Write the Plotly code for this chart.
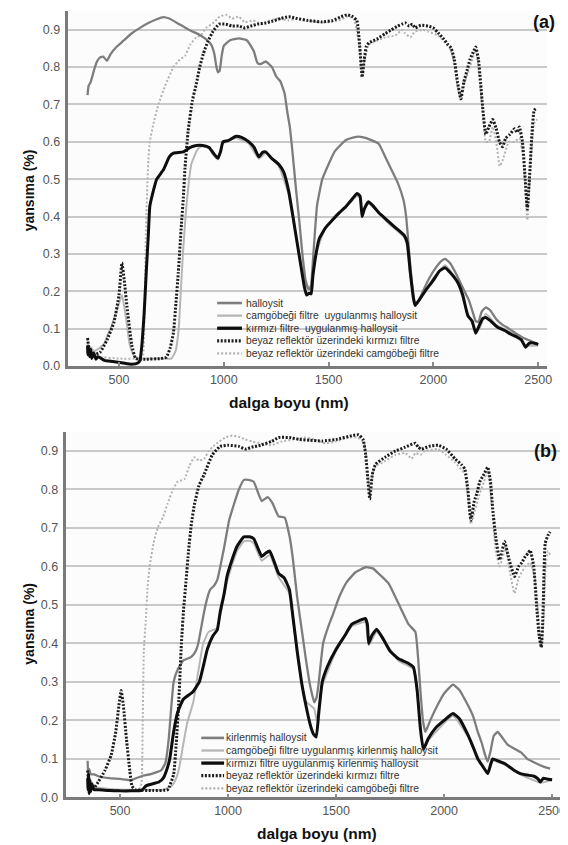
import plotly.graph_objects as go

W, H = 568, 845

# ---------------- DATA (wavelength nm, reflectance) ----------------
# Panel (a)
a_halloysit = [(350,0.725),(355,0.75),(365,0.76),(380,0.79),(395,0.815),(410,0.826),(425,0.828),(443,0.817),
    (460,0.835),(490,0.855),(520,0.87),(560,0.89),(600,0.905),(640,0.918),(680,0.928),(711,0.934),(740,0.93),
    (790,0.914),(840,0.898),(880,0.888),(916,0.874),(940,0.86),(955,0.835),(965,0.80),(972,0.786),(980,0.79),
    (990,0.83),(1000,0.857),(1030,0.872),(1072,0.877),(1110,0.872),(1143,0.843),(1160,0.812),(1175,0.808),
    (1200,0.815),(1230,0.80),(1250,0.775),(1270,0.762),(1290,0.73),(1303,0.68),(1315,0.64),(1330,0.56),
    (1345,0.47),(1360,0.39),(1375,0.30),(1390,0.23),(1405,0.205),(1415,0.21),(1425,0.28),(1435,0.36),
    (1445,0.43),(1470,0.50),(1500,0.54),(1530,0.575),(1583,0.605),(1620,0.612),(1644,0.614),(1680,0.61),
    (1739,0.595),(1770,0.56),(1800,0.525),(1830,0.49),(1857,0.445),(1870,0.40),(1885,0.30),(1900,0.21),
    (1913,0.165),(1930,0.175),(1950,0.20),(1980,0.235),(2010,0.262),(2040,0.282),(2056,0.287),(2080,0.275),
    (2110,0.245),(2140,0.21),(2170,0.175),(2190,0.14),(2202,0.12),(2215,0.118),(2230,0.145),(2250,0.157),
    (2270,0.15),(2300,0.125),(2330,0.11),(2360,0.1),(2400,0.085),(2430,0.075),(2460,0.068),(2500,0.058)]

a_camgobegi = [(350,0.07),(355,0.04),(365,0.05),(380,0.04),(400,0.045),(430,0.06),(443,0.08),(460,0.1),
    (490,0.15),(514,0.19),(525,0.16),(538,0.11),(550,0.06),(561,0.04),(575,0.025),(600,0.02),(700,0.02),
    (750,0.02),(770,0.04),(785,0.1),(795,0.2),(805,0.3),(815,0.38),(822,0.43),(845,0.54),(870,0.575),
    (884,0.585),(900,0.588),(930,0.583),(950,0.565),(972,0.553),(996,0.595),(1058,0.61),(1120,0.595),
    (1167,0.555),(1200,0.57),(1262,0.535),(1309,0.46),(1350,0.33),(1390,0.22),(1400,0.21),(1415,0.215),
    (1440,0.30),(1485,0.37),(1583,0.425),(1635,0.455),(1650,0.45),(1660,0.405),(1690,0.435),(1780,0.385),
    (1860,0.345),(1875,0.32),(1890,0.24),(1913,0.165),(1960,0.2),(2000,0.235),(2056,0.27),(2110,0.23),
    (2165,0.14),(2202,0.095),(2220,0.1),(2250,0.14),(2300,0.11),(2400,0.08),(2440,0.055),(2500,0.055)]

a_kirmizi = [(350,0.055),(352,0.03),(355,0.05),(360,0.025),(365,0.045),(370,0.02),(380,0.035),(390,0.018),
    (400,0.025),(430,0.015),(470,0.012),(520,0.008),(560,0.005),(590,0.008),(600,0.015),(610,0.06),
    (620,0.14),(630,0.25),(640,0.35),(647,0.427),(660,0.46),(680,0.50),(712,0.525),(740,0.56),(760,0.57),
    (807,0.573),(840,0.585),(869,0.59),(900,0.59),(930,0.585),(950,0.57),(972,0.556),(985,0.575),(996,0.60),
    (1020,0.603),(1058,0.615),(1085,0.612),(1120,0.60),(1145,0.585),(1167,0.56),(1185,0.572),(1200,0.573),
    (1230,0.555),(1262,0.54),(1285,0.52),(1309,0.47),(1330,0.40),(1350,0.33),(1370,0.26),(1385,0.21),
    (1395,0.19),(1408,0.195),(1417,0.193),(1425,0.24),(1440,0.30),(1455,0.34),(1485,0.37),(1517,0.39),
    (1550,0.41),(1583,0.427),(1610,0.445),(1635,0.462),(1650,0.455),(1660,0.40),(1670,0.42),(1690,0.44),
    (1710,0.43),(1740,0.41),(1780,0.39),(1820,0.37),(1860,0.35),(1875,0.33),(1890,0.25),(1905,0.18),
    (1913,0.162),(1930,0.175),(1960,0.20),(2000,0.23),(2030,0.255),(2056,0.263),(2080,0.25),(2117,0.223),
    (2140,0.19),(2164,0.135),(2185,0.12),(2202,0.088),(2220,0.11),(2235,0.127),(2250,0.13),(2270,0.122),
    (2306,0.104),(2340,0.095),(2370,0.085),(2400,0.077),(2420,0.07),(2440,0.05),(2455,0.06),(2470,0.062),
    (2500,0.058)]

a_ref_kirmizi = [(350,0.075),(360,0.04),(380,0.03),(410,0.037),(443,0.07),(476,0.117),(500,0.19),(514,0.276),
    (525,0.23),(538,0.16),(561,0.056),(580,0.02),(620,0.018),(700,0.02),(727,0.024),(745,0.05),(760,0.09),
    (772,0.17),(783,0.25),(798,0.38),(807,0.45),(815,0.53),(830,0.63),(850,0.71),(869,0.755),(885,0.80),
    (902,0.835),(925,0.87),(949,0.896),(977,0.915),(1010,0.915),(1040,0.91),(1072,0.91),(1100,0.905),
    (1130,0.91),(1160,0.915),(1200,0.918),(1233,0.923),(1270,0.93),(1310,0.935),(1350,0.93),(1400,0.925),
    (1470,0.921),(1520,0.925),(1560,0.935),(1588,0.94),(1615,0.935),(1635,0.925),(1648,0.86),(1660,0.773),
    (1670,0.82),(1680,0.855),(1692,0.865),(1730,0.875),(1771,0.89),(1800,0.9),(1830,0.91),(1850,0.915),
    (1866,0.918),(1885,0.91),(1900,0.915),(1913,0.905),(1940,0.912),(1975,0.91),(2000,0.905),(2022,0.892),
    (2050,0.875),(2070,0.86),(2084,0.852),(2100,0.82),(2115,0.76),(2131,0.715),(2145,0.76),(2160,0.79),
    (2174,0.82),(2190,0.84),(2202,0.854),(2215,0.82),(2225,0.76),(2235,0.693),(2250,0.62),(2265,0.64),
    (2283,0.66),(2300,0.635),(2315,0.60),(2330,0.587),(2345,0.61),(2365,0.62),(2387,0.635),(2400,0.625),
    (2410,0.64),(2425,0.6),(2438,0.5),(2448,0.42),(2458,0.5),(2470,0.62),(2481,0.685),(2495,0.69)]

a_ref_camgobegi = [(350,0.06),(380,0.03),(400,0.025),(500,0.02),(600,0.02),(615,0.03),(622,0.15),(628,0.35),
    (632,0.43),(640,0.55),(647,0.6),(665,0.65),(688,0.70),(720,0.75),(760,0.80),(790,0.82),(815,0.83),
    (840,0.86),(869,0.88),(890,0.885),(916,0.905),(954,0.92),(980,0.935),(1011,0.94),(1040,0.93),(1072,0.935),
    (1100,0.92),(1140,0.925),(1180,0.915),(1220,0.925),(1260,0.93),(1310,0.925),(1350,0.93),(1400,0.925),
    (1450,0.92),(1500,0.92),(1550,0.925),(1588,0.935),(1620,0.93),(1648,0.85),(1660,0.78),(1672,0.82),
    (1692,0.86),(1771,0.88),(1820,0.885),(1850,0.9),(1866,0.89),(1890,0.88),(1913,0.895),(1950,0.9),
    (1975,0.895),(2022,0.885),(2084,0.845),(2115,0.75),(2131,0.71),(2150,0.76),(2174,0.80),(2202,0.845),
    (2225,0.74),(2240,0.65),(2250,0.60),(2265,0.6),(2283,0.64),(2300,0.6),(2316,0.535),(2330,0.55),
    (2360,0.6),(2387,0.6),(2410,0.61),(2430,0.55),(2448,0.39),(2465,0.55),(2481,0.65),(2495,0.66)]

# Panel (b)
b_kirlenmis = [(350,0.095),(352,0.06),(356,0.075),(365,0.06),(380,0.06),(400,0.055),(450,0.05),(500,0.048),
    (550,0.045),(575,0.05),(600,0.055),(650,0.062),(690,0.07),(710,0.09),(725,0.15),(735,0.22),(748,0.30),
    (765,0.33),(793,0.356),(830,0.365),(850,0.38),(862,0.40),(885,0.47),(900,0.51),(917,0.54),(935,0.55),
    (950,0.565),(982,0.65),(1005,0.72),(1028,0.763),(1050,0.80),(1073,0.825),(1095,0.825),(1119,0.82),
    (1140,0.79),(1156,0.77),(1183,0.78),(1205,0.765),(1234,0.73),(1262,0.727),(1285,0.677),(1300,0.62),
    (1320,0.52),(1340,0.44),(1360,0.36),(1380,0.29),(1399,0.247),(1410,0.26),(1420,0.30),(1440,0.40),
    (1468,0.45),(1482,0.47),(1514,0.52),(1550,0.56),(1590,0.585),(1637,0.598),(1670,0.595),(1700,0.58),
    (1743,0.556),(1775,0.52),(1803,0.487),(1835,0.45),(1867,0.43),(1880,0.36),(1890,0.28),(1902,0.2),
    (1913,0.17),(1925,0.185),(1940,0.205),(1970,0.24),(2000,0.27),(2041,0.293),(2070,0.28),(2110,0.24),
    (2135,0.21),(2156,0.17),(2175,0.14),(2190,0.11),(2202,0.093),(2215,0.12),(2230,0.16),(2248,0.17),
    (2270,0.155),(2294,0.137),(2330,0.125),(2360,0.115),(2385,0.10),(2420,0.09),(2460,0.08),(2491,0.075)]

b_camgobegi = [(350,0.06),(355,0.03),(360,0.05),(370,0.03),(400,0.025),(500,0.02),(600,0.02),(700,0.02),
    (740,0.03),(760,0.05),(775,0.08),(790,0.13),(812,0.196),(839,0.247),(860,0.32),(885,0.40),(910,0.43),
    (950,0.44),(970,0.49),(995,0.56),(1041,0.64),(1073,0.665),(1100,0.667),(1119,0.66),(1156,0.615),
    (1193,0.63),(1234,0.572),(1284,0.53),(1320,0.37),(1360,0.25),(1399,0.23),(1410,0.2),(1436,0.29),
    (1500,0.38),(1573,0.445),(1635,0.455),(1651,0.395),(1688,0.43),(1789,0.355),(1858,0.333),(1904,0.12),
    (1927,0.148),(2041,0.212),(2110,0.158),(2202,0.06),(2225,0.095),(2280,0.085),(2353,0.06),(2445,0.038),
    (2500,0.045)]

b_kirmizi = [(350,0.05),(352,0.02),(354,0.06),(357,0.01),(360,0.045),(364,0.015),(370,0.035),(380,0.02),
    (400,0.02),(450,0.018),(500,0.017),(550,0.017),(600,0.018),(620,0.03),(650,0.035),(680,0.04),(700,0.05),
    (715,0.07),(730,0.10),(748,0.17),(766,0.22),(793,0.255),(835,0.273),(867,0.30),(885,0.34),(904,0.385),
    (930,0.42),(950,0.435),(963,0.48),(982,0.53),(995,0.574),(1020,0.62),(1041,0.652),(1073,0.677),
    (1100,0.677),(1119,0.672),(1140,0.645),(1156,0.626),(1175,0.635),(1193,0.64),(1215,0.61),(1234,0.582),
    (1260,0.57),(1284,0.54),(1300,0.47),(1320,0.38),(1340,0.30),(1360,0.24),(1380,0.19),(1395,0.165),
    (1408,0.157),(1420,0.22),(1436,0.30),(1460,0.34),(1500,0.385),(1540,0.42),(1573,0.45),(1610,0.46),
    (1635,0.465),(1645,0.45),(1651,0.40),(1665,0.42),(1688,0.437),(1720,0.41),(1750,0.38),(1789,0.36),
    (1830,0.35),(1858,0.338),(1875,0.28),(1890,0.18),(1904,0.125),(1927,0.153),(1960,0.18),(2000,0.20),
    (2041,0.218),(2070,0.205),(2110,0.163),(2135,0.13),(2156,0.10),(2180,0.08),(2202,0.062),(2215,0.085),
    (2225,0.10),(2250,0.095),(2280,0.088),(2320,0.072),(2353,0.062),(2385,0.058),(2417,0.055),(2435,0.048),
    (2445,0.04),(2460,0.05),(2475,0.048),(2500,0.046)]

b_ref_kirmizi = [(350,0.07),(360,0.03),(380,0.025),(399,0.04),(430,0.07),(459,0.11),(480,0.17),(495,0.24),
    (505,0.278),(515,0.24),(530,0.15),(545,0.07),(555,0.03),(570,0.02),(650,0.018),(720,0.02),(748,0.06),
    (760,0.14),(771,0.24),(784,0.40),(794,0.487),(805,0.56),(817,0.64),(830,0.71),(844,0.76),(865,0.81),
    (890,0.84),(927,0.89),(963,0.912),(1000,0.915),(1050,0.912),(1080,0.905),(1110,0.91),(1150,0.915),
    (1202,0.925),(1234,0.935),(1284,0.935),(1330,0.93),(1380,0.928),(1436,0.926),(1500,0.93),(1573,0.94),
    (1605,0.942),(1625,0.93),(1637,0.89),(1648,0.82),(1656,0.775),(1668,0.84),(1683,0.866),(1730,0.885),
    (1775,0.90),(1820,0.91),(1867,0.92),(1880,0.91),(1895,0.905),(1930,0.912),(1972,0.915),(2010,0.905),
    (2050,0.88),(2080,0.865),(2096,0.853),(2110,0.80),(2124,0.72),(2140,0.77),(2152,0.79),(2165,0.82),
    (2185,0.84),(2202,0.858),(2215,0.82),(2225,0.75),(2239,0.677),(2257,0.617),(2268,0.64),(2280,0.665),
    (2300,0.62),(2326,0.574),(2345,0.60),(2360,0.61),(2376,0.626),(2390,0.635),(2399,0.642),(2415,0.6),
    (2428,0.5),(2440,0.42),(2450,0.39),(2458,0.48),(2468,0.66),(2480,0.68),(2491,0.69)]

b_ref_camgobegi = [(350,0.06),(380,0.03),(400,0.022),(500,0.02),(590,0.02),(600,0.04),(605,0.2),(610,0.38),
    (619,0.46),(628,0.55),(637,0.60),(655,0.66),(674,0.70),(700,0.73),(720,0.763),(745,0.80),(766,0.82),
    (798,0.827),(820,0.86),(844,0.884),(865,0.875),(890,0.88),(910,0.9),(931,0.912),(960,0.925),(991,0.936),
    (1020,0.94),(1050,0.937),(1080,0.93),(1110,0.925),(1150,0.92),(1200,0.915),(1250,0.925),(1300,0.93),
    (1350,0.935),(1400,0.93),(1450,0.92),(1500,0.925),(1560,0.935),(1600,0.935),(1630,0.92),(1648,0.84),
    (1656,0.79),(1668,0.84),(1683,0.86),(1730,0.875),(1775,0.89),(1820,0.895),(1850,0.88),(1867,0.895),
    (1890,0.89),(1910,0.9),(1972,0.905),(2010,0.89),(2050,0.87),(2096,0.84),(2124,0.71),(2140,0.74),
    (2165,0.79),(2185,0.82),(2202,0.85),(2225,0.73),(2239,0.64),(2257,0.60),(2270,0.62),(2285,0.65),
    (2300,0.6),(2326,0.53),(2345,0.57),(2376,0.6),(2399,0.61),(2420,0.57),(2440,0.45),(2450,0.39),
    (2460,0.45),(2470,0.60),(2480,0.64),(2491,0.63)]

names_a = ["halloysit", "camgöbeği filtre\u00a0 uygulanmış halloysit", "kırmızı filtre\u00a0 uygulanmış halloysit",
           "beyaz reflektör üzerindeki kırmızı filtre", "beyaz reflektör üzerindeki camgöbeği filtre"]
names_b = ["kirlenmiş halloysit", "camgöbeği filtre uygulanmış kirlenmiş halloysit",
           "kırmızı filtre uygulanmış kirlenmiş halloysit",
           "beyaz reflektör üzerindeki kırmızı filtre", "beyaz reflektör üzerindeki camgöbeği filtre"]
series_a = [a_halloysit, a_camgobegi, a_kirmizi, a_ref_kirmizi, a_ref_camgobegi]
series_b = [b_kirlenmis, b_camgobegi, b_kirmizi, b_ref_kirmizi, b_ref_camgobegi]

y_ticks = [0.0, 0.1, 0.2, 0.3, 0.4, 0.5, 0.6, 0.7, 0.8, 0.9]
x_ticks = [500, 1000, 1500, 2000, 2500]
y_title = "yansıma (%)"
x_title = "dalga boyu (nm)"
panel_labels = ["(a)", "(b)"]

# ---------------- STYLE ----------------
styles = [
    dict(color="#7d7d7d", width=2.3, dash="solid"),
    dict(color="#b6b6b6", width=2.0, dash="solid"),
    dict(color="#0e0e0e", width=3.0, dash="solid"),
    dict(color="#1c1c1c", width=3.0, dash="2px,1.6px"),
    dict(color="#b2b2b2", width=2.0, dash="2px,2px"),
]
draw_order = [4, 1, 0, 3, 2]

FONT = "Liberation Sans, Arial, sans-serif"

def px_x(p):
    return p / W

def px_y(p):
    return 1 - p / H

fig = go.Figure()

panels = [
    dict(series=series_a, names=names_a, xa="x", ya="y",
         xdom=(61, 544), ydom=(361, 3.1), xr=(259, 2543),
         leg_x0=211, leg_x1=236, leg_tx=238, leg_y0=297.5, leg_dy=12.7,
         ytitle_xy=(22, 184), xtitle_xy=(283, 398), lab_xy=(541, 14)),
    dict(series=series_b, names=names_b, xa="x2", ya="y2",
         xdom=(59, 562), ydom=(796, 427.3), xr=(252, 2560),
         leg_x0=195, leg_x1=218, leg_tx=218, leg_y0=736, leg_dy=12.7,
         ytitle_xy=(21, 621), xtitle_xy=(312, 832), lab_xy=(542, 447)),
]

annotations = []
shapes = []
for pi, P in enumerate(panels):
    for k in draw_order:
        pts = P["series"][k]
        st = styles[k]
        fig.add_trace(go.Scatter(
            x=[p[0] for p in pts], y=[p[1] for p in pts],
            mode="lines", name=P["names"][k], showlegend=False,
            line=dict(color=st["color"], width=st["width"], dash=st["dash"], shape="spline", smoothing=0.4),
            xaxis=P["xa"], yaxis=P["ya"], hoverinfo="skip"))
    # manual legend
    for k in range(5):
        st = styles[k]
        yy = px_y(P["leg_y0"] + k * P["leg_dy"])
        shapes.append(dict(type="line", xref="paper", yref="paper",
                           x0=px_x(P["leg_x0"]), x1=px_x(P["leg_x1"]), y0=yy, y1=yy,
                           line=dict(color=st["color"], width=st["width"] + 0.3, dash=st["dash"])))
        annotations.append(dict(text=P["names"][k], xref="paper", yref="paper",
                                x=px_x(P["leg_tx"]), y=yy, xanchor="left", yanchor="middle",
                                showarrow=False, font=dict(family=FONT, size=10.3, color="#333333")))
    annotations.append(dict(text="<b>%s</b>" % y_title, xref="paper", yref="paper",
                            x=px_x(P["ytitle_xy"][0]), y=px_y(P["ytitle_xy"][1]), textangle=-90, showarrow=False,
                            xanchor="center", yanchor="middle",
                            font=dict(family=FONT, size=14, color="#111111")))
    annotations.append(dict(text="<b>%s</b>" % x_title, xref="paper", yref="paper",
                            x=px_x(P["xtitle_xy"][0]), y=px_y(P["xtitle_xy"][1]), showarrow=False,
                            xanchor="center", yanchor="middle",
                            font=dict(family=FONT, size=15.5, color="#111111")))
    annotations.append(dict(text="<b>%s</b>" % panel_labels[pi], xref="paper", yref="paper",
                            x=px_x(P["lab_xy"][0]), y=px_y(P["lab_xy"][1]), showarrow=False,
                            xanchor="center", yanchor="middle",
                            font=dict(family=FONT, size=18, color="#111111")))

axis_common_x = dict(tickvals=x_ticks, ticktext=[str(v) for v in x_ticks], showgrid=False, zeroline=False,
                     showline=True, linecolor="#7a7a7a", linewidth=2.5,
                     ticks="inside", ticklen=4, tickwidth=1.5, tickcolor="#8a8a8a",
                     tickfont=dict(family=FONT, size=12.5, color="#555555"), ticklabelstandoff=0)
axis_common_y = dict(tickvals=y_ticks, ticktext=["%.1f" % v for v in y_ticks], showgrid=True,
                     gridcolor="#c9c9c9", gridwidth=1.6, zeroline=False,
                     showline=True, linecolor="#7a7a7a", linewidth=2.5, ticks="",
                     tickfont=dict(family=FONT, size=12.5, color="#555555"), ticklabelstandoff=3,
                     range=[0, 0.95])

A, B = panels
fig.update_layout(
    width=W, height=H, margin=dict(l=0, r=0, t=0, b=0),
    paper_bgcolor="white", plot_bgcolor="#fcfcfc",
    showlegend=False,
    xaxis=dict(axis_common_x, domain=[px_x(A["xdom"][0]), px_x(A["xdom"][1])], range=list(A["xr"]), anchor="y"),
    yaxis=dict(axis_common_y, domain=[px_y(A["ydom"][0]), px_y(A["ydom"][1])], anchor="x"),
    xaxis2=dict(axis_common_x, domain=[px_x(B["xdom"][0]), px_x(B["xdom"][1])], range=list(B["xr"]), anchor="y2"),
    yaxis2=dict(axis_common_y, domain=[px_y(B["ydom"][0]), px_y(B["ydom"][1])], anchor="x2"),
    annotations=annotations, shapes=shapes,
)

fig.write_html("out.html")
